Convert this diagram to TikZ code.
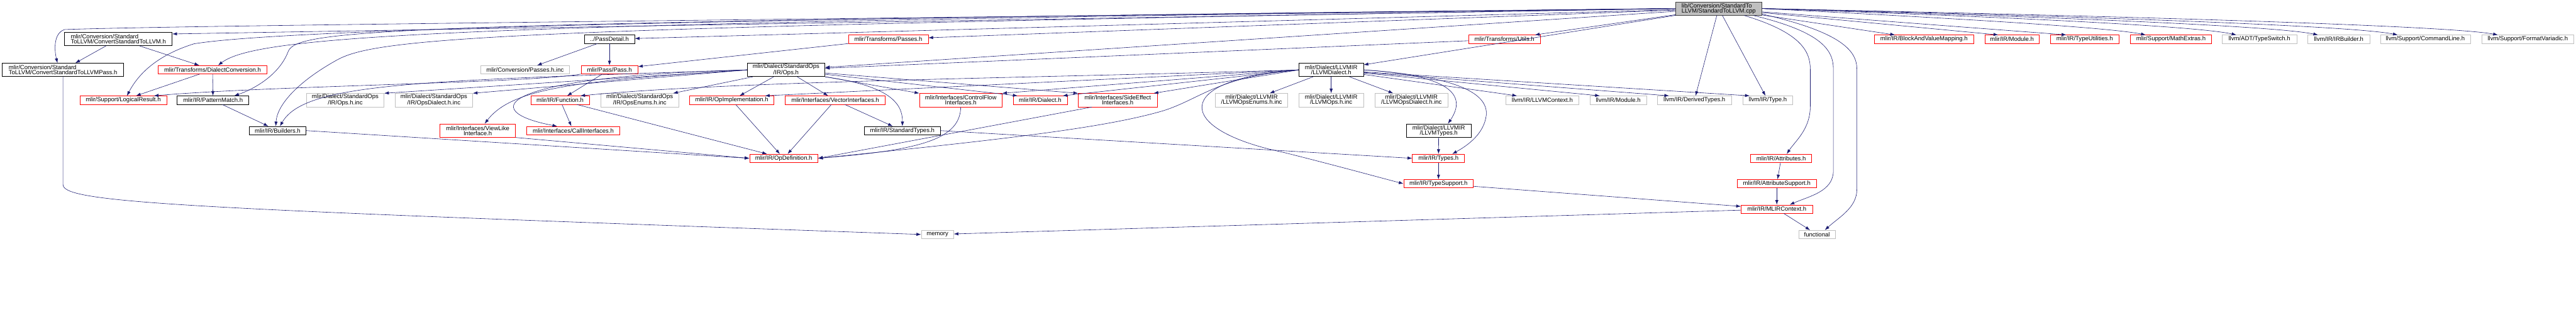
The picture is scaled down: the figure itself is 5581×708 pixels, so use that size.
\documentclass[tikz,border=0pt]{standalone}
\usepackage{fontspec}
\setmainfont{Liberation Sans}
\usetikzlibrary{arrows.meta}
\definecolor{cedge}{RGB}{25,25,112}
\definecolor{ctrunc}{RGB}{255,0,0}
\definecolor{cext}{RGB}{191,191,191}
\definecolor{croot}{RGB}{191,191,191}
\definecolor{crootline}{RGB}{64,64,64}

\begin{document}
\begin{tikzpicture}[x=1pt,y=-1pt,font=\fontsize{13}{11}\selectfont,
  >={Latex[length=10pt,width=7pt]},
  hdr/.style={draw,line width=0.9pt,inner sep=0pt,minimum height=18pt,minimum width=#1,align=center},
  trunc/.style={hdr=#1,draw=ctrunc},
  ext/.style={hdr=#1,draw=cext},
  tall/.style={minimum height=29pt},
  dep/.style={->,draw=cedge,line width=0.8pt}]
  \useasboundingbox (0,0) rectangle (5581,708);
  \node[hdr=187,tall,fill=croot,draw=crootline,align=left] (root) at (3723.5,18.5) {lib/Conversion/StandardTo\\LLVM/StandardToLLVM.cpp};
  \node[hdr=233,tall,align=left] (cstl) at (256.5,84.5) {mlir/Conversion/Standard\\ToLLVM/ConvertStandardToLLVM.h};
  \node[hdr=109] (pdetail) at (1320.5,85) {../PassDetail.h};
  \node[trunc=173] (tpasses) at (1924.5,85) {mlir/Transforms/Passes.h};
  \node[trunc=155] (tutils) at (3259.5,85) {mlir/Transforms/Utils.h};
  \node[trunc=215] (bvmap) at (4168.5,85) {mlir/IR/BlockAndValueMapping.h};
  \node[trunc=118] (irmod) at (4359,85) {mlir/IR/Module.h};
  \node[trunc=149] (tyutil) at (4516.5,85) {mlir/IR/TypeUtilities.h};
  \node[trunc=175] (mathx) at (4703.5,85) {mlir/Support/MathExtras.h};
  \node[ext=162] (tswitch) at (4895,85) {llvm/ADT/TypeSwitch.h};
  \node[ext=134] (irbld) at (5067,85) {llvm/IR/IRBuilder.h};
  \node[ext=195] (cmdline) at (5254.5,85) {llvm/Support/CommandLine.h};
  \node[ext=199] (fmtvar) at (5476.5,85) {llvm/Support/FormatVariadic.h};
  \node[hdr=263,tall,align=left] (cstlp) at (136.5,151.5) {mlir/Conversion/Standard\\ToLLVM/ConvertStandardToLLVMPass.h};
  \node[trunc=235] (dconv) at (460.5,151) {mlir/Transforms/DialectConversion.h};
  \node[ext=193] (passinc) at (1137.5,151) {mlir/Conversion/Passes.h.inc};
  \node[trunc=123] (pass) at (1320.5,151) {mlir/Pass/Pass.h};
  \node[hdr=168,tall] (stdops) at (1703,151.5) {mlir/Dialect/StandardOps\\/IR/Ops.h};
  \node[hdr=140,tall] (llvmd) at (2884,151.5) {mlir/Dialect/LLVMIR\\/LLVMDialect.h};
  \node[trunc=188] (logres) at (267,217) {mlir/Support/LogicalResult.h};
  \node[hdr=155] (patm) at (461.5,217) {mlir/IR/PatternMatch.h};
  \node[ext=168,tall] (opsinc) at (748,217) {mlir/Dialect/StandardOps\\/IR/Ops.h.inc};
  \node[ext=168,tall] (opsdinc) at (940,217) {mlir/Dialect/StandardOps\\/IR/OpsDialect.h.inc};
  \node[trunc=127] (func) at (1213.5,217) {mlir/IR/Function.h};
  \node[ext=168,tall] (opseinc) at (1386,217) {mlir/Dialect/StandardOps\\/IR/OpsEnums.h.inc};
  \node[trunc=183] (opimpl) at (1585.5,217) {mlir/IR/OpImplementation.h};
  \node[trunc=217] (vecif) at (1809.5,217) {mlir/Interfaces/VectorInterfaces.h};
  \node[trunc=179,tall] (cfif) at (2081.5,217) {mlir/Interfaces/ControlFlow\\Interfaces.h};
  \node[trunc=117] (dialect) at (2253.5,217) {mlir/IR/Dialect.h};
  \node[trunc=171,tall] (seif) at (2421.5,217) {mlir/Interfaces/SideEffect\\Interfaces.h};
  \node[ext=157,tall] (lenuminc) at (2711.5,217) {mlir/Dialect/LLVMIR\\/LLVMOpsEnums.h.inc};
  \node[ext=140,tall] (lopsinc) at (2884,217) {mlir/Dialect/LLVMIR\\/LLVMOps.h.inc};
  \node[ext=158,tall] (ldialinc) at (3058,217) {mlir/Dialect/LLVMIR\\/LLVMOpsDialect.h.inc};
  \node[ext=159] (llctx) at (3341.5,217) {llvm/IR/LLVMContext.h};
  \node[ext=122] (llmod) at (3506,217) {llvm/IR/Module.h};
  \node[ext=160] (dertypes) at (3671,217) {llvm/IR/DerivedTypes.h};
  \node[ext=108] (lltype) at (3830,217) {llvm/IR/Type.h};
  \node[hdr=123] (bld) at (601.5,283) {mlir/IR/Builders.h};
  \node[trunc=164,tall] (viewif) at (1035,283) {mlir/Interfaces/ViewLike\\Interface.h};
  \node[trunc=202] (callif) at (1242,283) {mlir/Interfaces/CallInterfaces.h};
  \node[hdr=164] (stdty) at (1955,283) {mlir/IR/StandardTypes.h};
  \node[hdr=140,tall] (llvmty) at (3117,283) {mlir/Dialect/LLVMIR\\/LLVMTypes.h};
  \node[trunc=148] (opdef) at (1698,343) {mlir/IR/OpDefinition.h};
  \node[trunc=113] (types) at (3116.5,343) {mlir/IR/Types.h};
  \node[trunc=132] (attrs) at (3859,343) {mlir/IR/Attributes.h};
  \node[trunc=151] (tysup) at (3116.5,398) {mlir/IR/TypeSupport.h};
  \node[trunc=171] (attrsup) at (3849.5,398) {mlir/IR/AttributeSupport.h};
  \node[trunc=155] (ctx) at (3849.5,453) {mlir/IR/MLIRContext.h};
  \node[ext=70] (memory) at (2031,508) {memory};
  \node[ext=79] (functional) at (3936.5,508) {functional};
  \draw[dep] (root.west) -- ([yshift=-4pt]cstl.north east);
  \draw[dep] (root.west) .. controls (1500,45) and (400,55) .. (140,64) .. controls (115,72) and (118,110) .. ([xshift=-12pt]cstlp.north);
  \draw[dep] (root.west) .. controls (1500,40) and (600,65) .. (420,95) .. controls (340,120) and (300,160) .. ([xshift=8pt]logres.north);
  \draw[dep] (root.west) .. controls (1000,50) and (560,75) .. ([xshift=12pt]dconv.north);
  \draw[dep] (root.west) .. controls (900,50) and (650,60) .. (625,110) .. controls (605,165) and (545,195) .. ([xshift=46pt]patm.north);
  \draw[dep] (root.west) .. controls (1100,60) and (820,80) .. (730,130) .. controls (640,180) and (600,230) .. ([xshift=-4pt]bld.north);
  \draw[dep] (root) -- (pdetail);
  \draw[dep] (root) -- (tpasses);
  \draw[dep] (root) -- (tutils);
  \draw[dep] (root) -- (stdops);
  \draw[dep] (root) -- (llvmd);
  \draw[dep] (root) -- (bvmap);
  \draw[dep] (root) -- ([xshift=-30pt]irmod.north);
  \draw[dep] (root) -- ([xshift=-40pt]tyutil.north);
  \draw[dep] (root.east) .. controls (4200,38) and (4560,58) .. ([xshift=-55pt]mathx.north);
  \draw[dep] (root.east) .. controls (4300,35) and (4750,55) .. ([xshift=-50pt]tswitch.north);
  \draw[dep] (root.east) .. controls (4400,35) and (4920,55) .. ([xshift=-45pt]irbld.north);
  \draw[dep] (root.east) .. controls (4500,35) and (5090,55) .. ([xshift=-60pt]cmdline.north);
  \draw[dep] (root.east) .. controls (4600,35) and (5300,55) .. ([xshift=-65pt]fmtvar.north);
  \draw[dep] (root) -- (dertypes);
  \draw[dep] (root) -- (lltype);
  \draw[dep] ([xshift=55pt]root.south) .. controls (3900,70) and (3922,110) .. (3922,150) -- (3922,230) .. controls (3922,280) and (3890,305) .. ([xshift=12pt]attrs.north);
  \draw[dep] ([xshift=75pt]root.south) .. controls (3950,70) and (3972,110) .. (3972,150) -- (3972,370) .. controls (3972,415) and (3920,425) .. ([xshift=28pt]ctx.north);
  \draw[dep] ([yshift=-12pt]root.east) .. controls (3990,70) and (4023,110) .. (4023,150) -- (4023,410) .. controls (4023,450) and (3985,470) .. ([xshift=17pt]functional.north);
  \draw[dep] (cstl) -- (cstlp);
  \draw[dep] (cstl) -- (dconv);
  \draw[dep] (cstlp.south) -- (136.5,400) .. controls (136.5,440) and (400,452) .. (memory.west);
  \draw[dep] (pdetail) -- (passinc);
  \draw[dep] (pdetail) -- (pass);
  \draw[dep] (tpasses) -- (pass);
  \draw[dep] (tutils) -- (stdops);
  \draw[dep] (pass) -- (func);
  \draw[dep] (pass.south west) .. controls (1150,180) and (600,185) .. ([xshift=-28pt]logres.north east);
  \draw[dep] (dconv) -- (logres);
  \draw[dep] (dconv) -- (patm);
  \draw[dep] (patm) -- (bld);
  \draw[dep] (stdops.west) -- (opsinc.north east);
  \draw[dep] (stdops.west) -- (opsdinc.north east);
  \draw[dep] (stdops) -- (opseinc);
  \draw[dep] (stdops) -- (opimpl);
  \draw[dep] (stdops) -- (vecif);
  \draw[dep] (stdops.west) .. controls (900,175) and (660,180) .. ([xshift=5pt]bld.north);
  \draw[dep] (stdops.west) .. controls (1250,175) and (1110,190) .. ([xshift=15pt]viewif.north);
  \draw[dep] (stdops.west) .. controls (1080,165) and (1030,240) .. ([xshift=-35pt]callif.north);
  \draw[dep] (stdops.south east) .. controls (1920,185) and (1956,220) .. (stdty.north);
  \draw[dep] (stdops) -- (cfif.north west);
  \draw[dep] (stdops) -- ([xshift=10pt]dialect.north west);
  \draw[dep] (stdops) -- (seif.north west);
  \draw[dep] (llvmd) -- (lenuminc);
  \draw[dep] (llvmd) -- (lopsinc);
  \draw[dep] (llvmd) -- (ldialinc);
  \draw[dep] (llvmd.east) .. controls (3100,160) and (3190,190) .. ([xshift=20pt]llvmty.north);
  \draw[dep] (llvmd.east) .. controls (3150,165) and (3225,200) .. (3220,250) .. controls (3215,290) and (3180,315) .. ([xshift=30pt]types.north);
  \draw[dep] (llvmd.west) .. controls (2540,170) and (2540,280) .. (2780,330) .. controls (2900,360) and (2990,385) .. (tysup.west);
  \draw[dep] (llvmd) -- ([xshift=-55pt]llctx.north);
  \draw[dep] (llvmd) -- ([xshift=-40pt]llmod.north);
  \draw[dep] (llvmd) -- ([xshift=-55pt]dertypes.north);
  \draw[dep] (llvmd) -- ([xshift=15pt]lltype.north west);
  \draw[dep] (llvmd.west) -- ([xshift=-10pt]dialect.north east);
  \draw[dep] (llvmd.west) -- ([xshift=-8pt]seif.north east);
  \draw[dep] (llvmd.west) -- (cfif.north east);
  \draw[dep] (llvmd.west) .. controls (2200,170) and (1600,175) .. ([xshift=-20pt]func.north east);
  \draw[dep] (llvmd.west) -- ([xshift=-20pt]opimpl.north east);
  \draw[dep] (llvmd.west) .. controls (2640,165) and (2600,215) .. (2520,240) .. controls (2400,275) and (2200,300) .. (opdef.east);
  \draw[dep] (bld.east) -- (opdef.west);
  \draw[dep] (viewif.south east) -- (opdef.west);
  \draw[dep] (func) -- (opdef);
  \draw[dep] (func) -- (callif);
  \draw[dep] (opimpl) -- (opdef);
  \draw[dep] (vecif) -- (opdef);
  \draw[dep] (vecif) -- (stdty);
  \draw[dep] (cfif.south) .. controls (2080,300) and (2000,325) .. (opdef.east);
  \draw[dep] ([xshift=30pt]seif.south west) -- (opdef.east);
  \draw[dep] (stdty.east) -- (types.west);
  \draw[dep] (llvmty) -- (types);
  \draw[dep] (types) -- (tysup);
  \draw[dep] (tysup) -- (ctx);
  \draw[dep] (attrs) -- (attrsup);
  \draw[dep] (attrsup) -- (ctx);
  \draw[dep] (ctx) -- (memory);
  \draw[dep] (ctx) -- (functional);
\end{tikzpicture}
\end{document}
